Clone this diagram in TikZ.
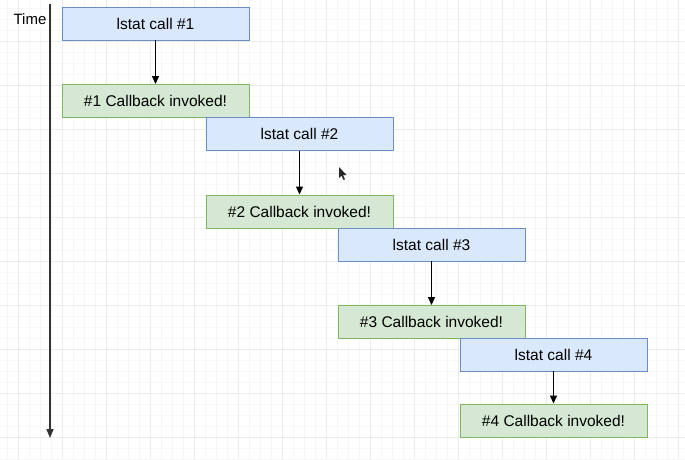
\documentclass[tikz,border=0pt]{standalone}
\usepackage{fontspec}
\setmainfont{Liberation Sans}
\usetikzlibrary{arrows.meta}
\definecolor{bfill}{HTML}{DAE8FC}
\definecolor{bdraw}{HTML}{6C8EBF}
\definecolor{gfill}{HTML}{D5E8D4}
\definecolor{gdraw}{HTML}{82B366}
\definecolor{minorg}{HTML}{F7F7F7}
\definecolor{majorg}{HTML}{EBEBEB}
\tikzset{
  callbox/.style={draw=bdraw, fill=bfill, line width=0.9pt, minimum width=187pt, minimum height=33pt, inner sep=0pt, font=\fontsize{15.5}{18}\selectfont},
  cbbox/.style={draw=gdraw, fill=gfill, line width=0.9pt, minimum width=187pt, minimum height=33pt, inner sep=0pt, font=\fontsize{15.5}{18}\selectfont},
  flow/.style={draw=black, line width=1.2pt, -{Triangle[length=8pt,width=7pt]}},
}
\begin{document}
\begin{tikzpicture}[x=1pt,y=-1pt]
\useasboundingbox (0,0) rectangle (685,459);
\fill[white] (0,0) rectangle (685,459);
% grid
\foreach \gx in {7,18,...,685} \draw[minorg, line width=0.6pt] (\gx,0) -- (\gx,459);
\foreach \gy in {8,19,...,459} \draw[minorg, line width=0.6pt] (0,\gy) -- (685,\gy);
\foreach \gx in {18,62,...,685} \draw[majorg, line width=0.8pt] (\gx,0) -- (\gx,459);
\foreach \gy in {41,85,...,459} \draw[majorg, line width=0.8pt] (0,\gy) -- (685,\gy);
% time axis
\node[font=\fontsize{15}{18}\selectfont, anchor=center] (time) at (30,19) {Time};
\coordinate (tstart) at (50,4);
\coordinate (tend) at (50,438);
\draw[draw=black!80, line width=1.6pt, -{Triangle[length=9pt,width=7pt]}] (tstart) -- (tend);
% boxes
\node[callbox] (c1) at (155.5,23.5) {lstat call \#1};
\node[cbbox]   (r1) at (155.5,101) {\#1 Callback invoked!};
\node[callbox] (c2) at (299.5,134) {lstat call \#2};
\node[cbbox]   (r2) at (299.5,211.5) {\#2 Callback invoked!};
\node[callbox] (c3) at (431.5,244.5) {lstat call \#3};
\node[cbbox]   (r3) at (431.5,322) {\#3 Callback invoked!};
\node[callbox] (c4) at (553.5,354.5) {lstat call \#4};
\node[cbbox]   (r4) at (553.5,420.5) {\#4 Callback invoked!};
% arrows
\draw[flow] (c1) -- (r1);
\draw[flow] (c2) -- (r2);
\draw[flow] (c3) -- (r3);
\draw[flow] (c4) -- (r4);
% mouse cursor
\fill[black!85] (339,167) -- (339,178) -- (341.5,175.5) -- (343.5,180) -- (345,179.3) -- (343,175) -- (346.5,175) -- cycle;
\end{tikzpicture}
\end{document}
